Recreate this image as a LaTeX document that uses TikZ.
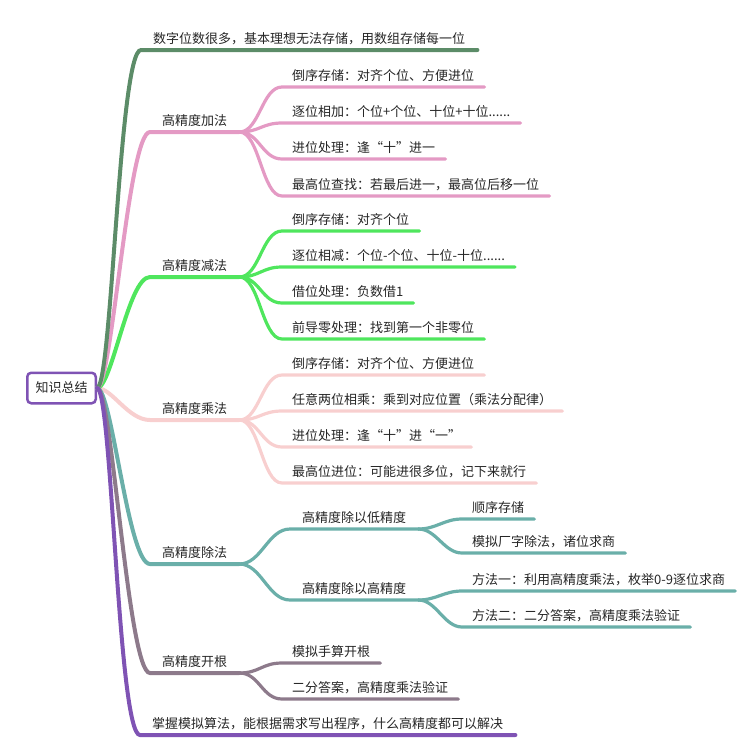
\documentclass[tikz,border=0pt]{standalone}
\usepackage{fontspec}
\setmainfont{Noto Sans CJK SC}
\definecolor{cA}{HTML}{5C8C68}
\definecolor{cB}{HTML}{E49AC4}
\definecolor{cC}{HTML}{4FE65D}
\definecolor{cD}{HTML}{F8CFCF}
\definecolor{cE}{HTML}{6AAFA9}
\definecolor{cF}{HTML}{8D7A8B}
\definecolor{cG}{HTML}{7F53B4}
\tikzset{
  txt/.style={font=\fontsize{13}{15}\selectfont, text=black!85, anchor=base west, inner xsep=10pt, inner ysep=0pt},
  topic/.style={txt, inner xsep=12pt},
  br/.style={line width=4pt, line cap=round},
  sb/.style={line width=3.2pt, line cap=round},
}
\newcommand\tnode[5]{% name, style, x, yline, text
  \node[#2] (#1) at (#3,#4-7) {#5};
  \coordinate (#1L) at ([yshift=-7pt]#1.base west);
  \coordinate (#1R) at ([yshift=-7pt]#1.base east);
}
\newcommand\mainlink[2]{% color, name
  \draw[br,#1] (root.east) .. controls +(15,0) and +(-22,0) .. (#2L) -- (#2R);
}
\newcommand\sublink[4]{% color, from, name, dx
  \draw[sb,#1] (#2R) .. controls +(#4,0) and +(-#4,0) .. (#3L) -- (#3R);
}
\begin{document}
\begin{tikzpicture}[x=1pt,y=-1pt]
\useasboundingbox (0,0) rectangle (746,745);
\node[draw=cG, line width=2.5pt, rounded corners=4pt, minimum width=68.5pt, minimum height=30.5pt,
  font=\fontsize{13}{15}\selectfont, text=black!85, inner sep=0pt] (root) at (61.5,388) {知识总结};
% main topics
\tnode{tA}{topic}{141}{50}{数字位数很多，基本理想无法存储，用数组存储每一位}
\tnode{tB}{topic}{150}{132}{高精度加法}
\tnode{tC}{topic}{150}{277}{高精度减法}
\tnode{tD}{topic}{150}{420}{高精度乘法}
\tnode{tE}{topic}{150}{564}{高精度除法}
\tnode{tF}{topic}{150}{673}{高精度开根}
\tnode{tG}{topic}{140}{735}{掌握模拟算法，能根据需求写出程序，什么高精度都可以解决}
% addition
\tnode{a1}{txt}{282}{87}{倒序存储：对齐个位、方便进位}
\tnode{a2}{txt}{282}{123}{逐位相加：个位+个位、十位+十位......}
\tnode{a3}{txt}{282}{159}{进位处理：逢“十”进一}
\tnode{a4}{txt}{282}{196}{最高位查找：若最后进一，最高位后移一位}
% subtraction
\tnode{s1}{txt}{282}{231}{倒序存储：对齐个位}
\tnode{s2}{txt}{282}{267}{逐位相减：个位-个位、十位-十位......}
\tnode{s3}{txt}{282}{303}{借位处理：负数借1}
\tnode{s4}{txt}{282}{339}{前导零处理：找到第一个非零位}
% multiplication
\tnode{m1}{txt}{282}{375}{倒序存储：对齐个位、方便进位}
\tnode{m2}{txt}{282}{411}{任意两位相乘：乘到对应位置（乘法分配律）}
\tnode{m3}{txt}{282}{447}{进位处理：逢“十”进“一”}
\tnode{m4}{txt}{282}{483}{最高位进位：可能进很多位，记下来就行}
% division
\tnode{d1}{topic}{290}{529}{高精度除以低精度}
\tnode{d2}{topic}{290}{600}{高精度除以高精度}
\tnode{e1}{txt}{462}{519}{顺序存储}
\tnode{e2}{txt}{462}{553}{模拟厂字除法，诸位求商}
\tnode{e3}{txt}{462}{591}{方法一：利用高精度乘法，枚举0-9逐位求商}
\tnode{e4}{txt}{462}{627}{方法二：二分答案，高精度乘法验证}
% root
\tnode{r1}{txt}{282}{663}{模拟手算开根}
\tnode{r2}{txt}{282}{699}{二分答案，高精度乘法验证}
% connectors
\sublink{cB}{tB}{a1}{20}\sublink{cB}{tB}{a2}{20}\sublink{cB}{tB}{a3}{20}\sublink{cB}{tB}{a4}{20}
\sublink{cC}{tC}{s1}{20}\sublink{cC}{tC}{s2}{20}\sublink{cC}{tC}{s3}{20}\sublink{cC}{tC}{s4}{20}
\sublink{cD}{tD}{m1}{20}\sublink{cD}{tD}{m2}{20}\sublink{cD}{tD}{m3}{20}\sublink{cD}{tD}{m4}{20}
\sublink{cE}{tE}{d1}{22}\sublink{cE}{tE}{d2}{22}
\sublink{cE}{d1}{e1}{18}\sublink{cE}{d1}{e2}{18}
\sublink{cE}{d2}{e3}{18}\sublink{cE}{d2}{e4}{18}
\sublink{cF}{tF}{r1}{20}\sublink{cF}{tF}{r2}{20}
\mainlink{cD}{tD}
\mainlink{cC}{tC}
\mainlink{cB}{tB}
\mainlink{cA}{tA}
\mainlink{cE}{tE}
\mainlink{cF}{tF}
\mainlink{cG}{tG}
\end{tikzpicture}
\end{document}
